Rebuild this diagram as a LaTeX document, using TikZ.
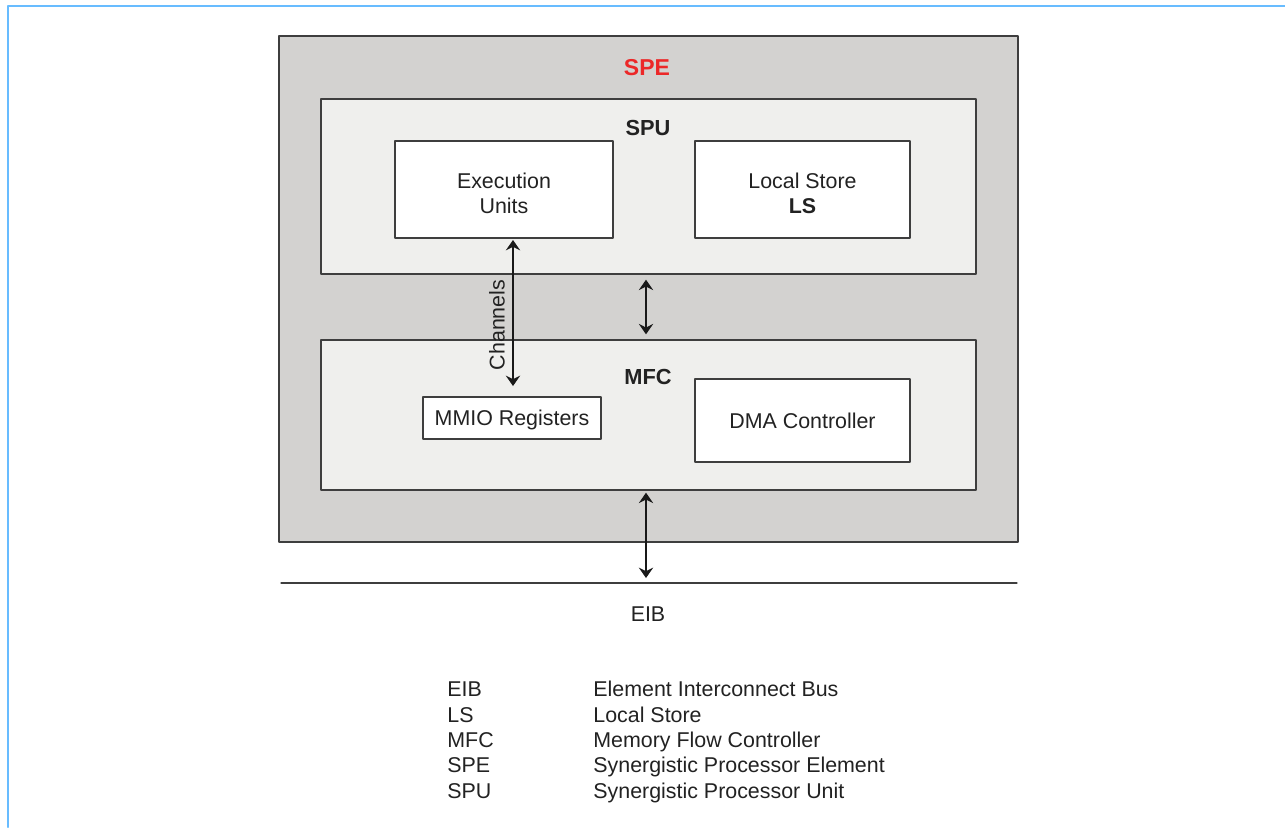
\documentclass[tikz,border=0pt]{standalone}
\usepackage{fontspec}
\setmainfont{Liberation Sans}
\usetikzlibrary{arrows.meta}
\usetikzlibrary{positioning}
\definecolor{spegray}{RGB}{211,210,208}
\definecolor{unitgray}{RGB}{239,239,237}
\definecolor{spered}{RGB}{236,40,40}
\definecolor{figblue}{RGB}{104,188,255}
\definecolor{boxline}{RGB}{62,62,62}
\definecolor{inkgray}{RGB}{34,34,34}

\tikzset{
  txt/.style={font=\fontsize{10.7}{12.5}\selectfont, text=inkgray, inner sep=0pt},
  block/.style={txt, draw=boxline, line width=0.7pt, align=center},
  title/.style={txt, font=\fontsize{10.9}{12.5}\selectfont\bfseries},
  biarrow/.style={line width=0.6pt, draw=black!90, {Stealth[length=5.2pt, width=7.2pt, inset=1.8pt]}-{Stealth[length=5.2pt, width=7.2pt, inset=1.8pt]}}
}

\begin{document}
\begin{tikzpicture}[line cap=round, line join=round, x=0.5pt, y=-0.5pt]
\useasboundingbox (0,0) rectangle (1285,827);
% figure frame
\draw[figblue, line width=1.1pt] (8,827) -- (8,6) -- (1285,6);

% outer element and its two units
\node[block, fill=spegray, minimum width=369.5pt, minimum height=253pt] (spe) at (648.5,289) {};
\node[block, fill=unitgray, minimum width=327.5pt, minimum height=87.5pt] (spu) at (648.5,186.5) {};
\node[block, fill=unitgray, minimum width=327.5pt, minimum height=75pt] (mfc) at (648.5,415) {};

\node[title, text=spered, font=\fontsize{11.5}{13}\selectfont\bfseries] (spelabel) at (647,68) {SPE};
\node[title] (spulabel) at (648,128) {SPU};
\node[title] (mfclabel) at (648,377) {MFC};

% inner blocks
\node[block, fill=white, minimum width=109pt, minimum height=48.5pt] (exec) at (504,189.5) {};
\node[txt, align=center] (exectext) at (504,193) {Execution\\Units};
\node[block, fill=white, minimum width=107.5pt, minimum height=48.5pt] (ls) at (802.5,189.5) {};
\node[txt, align=center] (lstext) at (802.5,193) {Local Store\\\textbf{LS}};
\node[block, fill=white, minimum width=89pt, minimum height=21pt] (mmio) at (512,418) {};
\node[txt] (mmiotext) at (512,420) {MMIO Registers};
\node[block, fill=white, minimum width=107.5pt, minimum height=41.5pt] (dma) at (802.5,420.5) {DMA Controller};

% bus
\coordinate (eibw) at (281,583);
\coordinate (eibe) at (1017,583);
\draw[boxline, line width=0.6pt] (eibw) -- (eibe);
\node[txt] (eiblabel) at (648,614) {EIB};

% connectors
\coordinate (chtop) at (513,240);
\coordinate (chbot) at (513,386);
\draw[biarrow] (chtop) -- (chbot);
\node[txt, rotate=90] (chlabel) at (497,325) {Channels};
\coordinate (busx) at (646,0);
\draw[biarrow, shorten <=2.5pt, shorten >=2.5pt] (spu.south -| busx) -- (mfc.north -| busx);
\draw[biarrow, shorten <=1pt, shorten >=2.5pt] (mfc.south -| busx) -- (eibw -| busx);

% legend
\foreach \abbr/\full [count=\i] in {EIB/Element Interconnect Bus, LS/Local Store, MFC/Memory Flow Controller, SPE/Synergistic Processor Element, SPU/Synergistic Processor Unit}
{
  \node[txt, anchor=base west] (abbr\i) at (447,{671.5+25.3*\i}) {\abbr};
  \node[txt, anchor=base west] (full\i) at (593,{671.5+25.3*\i}) {\full};
}
\end{tikzpicture}
\end{document}
